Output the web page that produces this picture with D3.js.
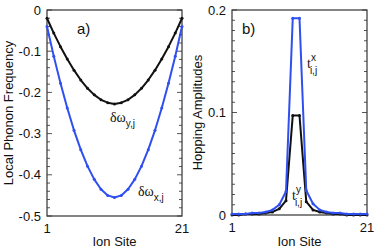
<!DOCTYPE html>
<html>
<head>
<meta charset="utf-8">
<script src="https://cdn.jsdelivr.net/npm/d3@7"></script>
<style>
  body { margin: 0; background: #fff; }
  text { font-family: "Liberation Sans", Arial, sans-serif; fill: #111; }
</style>
</head>
<body>
<div id="chart"></div>
<script>
// ion sites 1..21
var sites = d3.range(1, 22);

// panel a: local phonon frequency shifts
var omegaY = [-0.020, -0.056, -0.089, -0.119, -0.146, -0.170, -0.190, -0.206, -0.218, -0.225, -0.228,
              -0.225, -0.218, -0.206, -0.190, -0.170, -0.146, -0.119, -0.089, -0.056, -0.020];
var omegaX = [-0.040, -0.112, -0.178, -0.238, -0.292, -0.339, -0.379, -0.411, -0.435, -0.450, -0.455,
              -0.450, -0.435, -0.411, -0.379, -0.339, -0.292, -0.238, -0.178, -0.112, -0.040];

// panel b: hopping amplitudes
var hopX = [0.001, 0.001, 0.001, 0.002, 0.002, 0.003, 0.005, 0.010, 0.023, 0.192, 0.192,
            0.024, 0.011, 0.005, 0.003, 0.002, 0.002, 0.001, 0.001, 0.001, 0.001];
var hopY = [0.000, 0.000, 0.001, 0.001, 0.001, 0.002, 0.003, 0.006, 0.014, 0.097, 0.097,
            0.013, 0.005, 0.003, 0.002, 0.001, 0.001, 0.000, 0.000, 0.000, 0.000];

var ticksA = [0, -0.1, -0.2, -0.3, -0.4, -0.5];
var ticksB = [0, 0.1, 0.2];
var xTicks = [1, 21];

var blue = "#2f4ff0";

var svg = d3.select("#chart").append("svg")
    .attr("width", 374).attr("height", 252);

function ticksHas(arr, v) {
  return arr.some(function(t) { return Math.abs(t - v) < 1e-6; });
}

function panel(opt) {
  var g = svg.append("g");
  var x = d3.scaleLinear().domain([1, 21]).range([opt.left, opt.right]);
  var y = d3.scaleLinear().domain(opt.domain).range([opt.bottom, opt.top]);

  // minor ticks, both sides, pointing in
  var n = Math.round((opt.domain[1] - opt.domain[0]) / opt.minorStep);
  d3.range(0, n + 1).map(function(i) { return opt.domain[0] + i * opt.minorStep; }).forEach(function(v) {
    var len = ticksHas(opt.ticks, v) ? 5 : 3;
    g.append("line").attr("x1", opt.left).attr("x2", opt.left + len)
      .attr("y1", y(v)).attr("y2", y(v)).attr("stroke", "#555").attr("stroke-width", 1);
    g.append("line").attr("x1", opt.right).attr("x2", opt.right - len)
      .attr("y1", y(v)).attr("y2", y(v)).attr("stroke", "#555").attr("stroke-width", 1);
  });

  g.append("rect")
    .attr("x", opt.left).attr("y", opt.top)
    .attr("width", opt.right - opt.left).attr("height", opt.bottom - opt.top)
    .attr("fill", "none").attr("stroke", "#333").attr("stroke-width", 1.2);

  g.selectAll(".ytick").data(opt.ticks).enter().append("text")
    .attr("x", opt.left - 6).attr("y", function(d) { return y(d); })
    .attr("dy", "0.36em").attr("text-anchor", "end")
    .style("font-size", "13px")
    .text(opt.fmt);

  g.selectAll(".xtick").data(xTicks).enter().append("text")
    .attr("x", function(d) { return x(d); }).attr("y", opt.bottom + 17)
    .attr("text-anchor", "middle").style("font-size", "13px")
    .text(function(d) { return d; });

  g.append("text").attr("x", (opt.left + opt.right) / 2).attr("y", 246)
    .attr("text-anchor", "middle").style("font-size", "13px").text("Ion Site");

  g.append("text")
    .attr("transform", "translate(" + opt.ylabelX + "," + ((opt.top + opt.bottom) / 2) + ") rotate(-90)")
    .attr("text-anchor", "middle").style("font-size", "13px").text(opt.ylabel);

  var line = d3.line()
    .x(function(d, i) { return x(sites[i]); })
    .y(function(d) { return y(d); });

  opt.series.forEach(function(s) {
    g.append("path").datum(s.values)
      .attr("d", line).attr("fill", "none")
      .attr("stroke", s.color).attr("stroke-width", 2)
      .attr("stroke-linejoin", "round");
    g.selectAll(null).data(s.values).enter().append("circle")
      .attr("cx", function(d, i) { return x(sites[i]); })
      .attr("cy", function(d) { return y(d); })
      .attr("r", 1.5).attr("fill", s.color);
  });

  g.append("text").attr("x", opt.tagX).attr("y", 34)
    .style("font-size", "15px").text(opt.tag);
  return g;
}

var ga = panel({
  left: 47, right: 182, top: 10, bottom: 216,
  domain: [-0.5, 0], ticks: ticksA, minorStep: 0.02,
  fmt: function(d) { return d === 0 ? "0" : d3.format(".1f")(d).replace("−", "-"); },
  ylabel: "Local Phonon Frequency", ylabelX: 13,
  series: [{values: omegaY, color: "#111"}, {values: omegaX, color: blue}],
  tag: "a)", tagX: 77
});

var gb = panel({
  left: 232, right: 367, top: 10, bottom: 215,
  domain: [0, 0.2], ticks: ticksB, minorStep: 0.01,
  fmt: function(d) { return d === 0 ? "0" : d3.format(".1f")(d); },
  ylabel: "Hopping Amplitudes", ylabelX: 202,
  series: [{values: hopY, color: "#111"}, {values: hopX, color: blue}],
  tag: "b)", tagX: 242
});

// annotations with sub/superscripts
function label(g, x, y, main, sub, sup) {
  var t = g.append("text").attr("x", x).attr("y", y).style("font-size", "14px")
    .style("font-family", "'Liberation Serif', 'DejaVu Serif', serif");
  t.append("tspan").text(main);
  if (sup) {
    t.append("tspan").attr("dy", -7).style("font-size", "10px")
      .style("font-family", "'Liberation Sans', Arial, sans-serif").text(sup);
    t.append("tspan").attr("dx", -6).attr("dy", 13).style("font-size", "10px")
      .style("font-family", "'Liberation Sans', Arial, sans-serif").text(sub);
  } else {
    t.append("tspan").attr("dy", 5).style("font-size", "10px")
      .style("font-family", "'Liberation Sans', Arial, sans-serif").text(sub);
  }
}

label(ga, 110, 122, "δω", "y,j");
label(ga, 138, 196, "δω", "x,j");
label(gb, 307, 68, "t", "i,j", "x");
label(gb, 292, 200, "t", "i,j", "y");
</script>
</body>
</html>
